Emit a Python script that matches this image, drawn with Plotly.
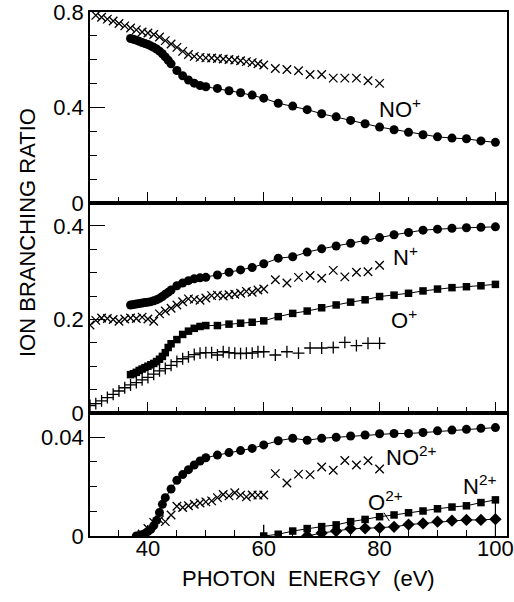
import plotly.graph_objects as go

# ---------------- data (photon energy in eV, branching ratios) ----------------
# Top panel: NO+
NOP_CIRC_E = [37, 37.5, 38, 38.5, 39, 39.5, 40, 40.5, 41, 41.5, 42, 42.5, 43, 43.5, 44,
              45, 46, 47, 48, 49, 50, 52, 54, 56, 58, 60,
              62.5, 65, 67.5, 70, 72.5, 75, 77.5, 80, 82.5, 85, 87.5, 90, 92.5, 95, 97.5, 100]
NOP_CIRC = [0.689, 0.686, 0.682, 0.677, 0.672, 0.668, 0.664, 0.658, 0.652, 0.645, 0.636, 0.625, 0.612, 0.598, 0.583,
            0.555, 0.533, 0.515, 0.502, 0.492, 0.487, 0.480, 0.470, 0.462, 0.452, 0.439,
            0.418, 0.406, 0.391, 0.374, 0.361, 0.346, 0.332, 0.318, 0.307, 0.296, 0.286, 0.277, 0.272, 0.269, 0.260, 0.254]
NOP_X_E = [31, 32, 33, 34, 35, 36, 37, 38, 39, 40, 41, 42, 43, 44, 45, 46, 47, 48, 49, 50,
           51, 52, 53, 54, 55, 56, 57, 58, 59, 60, 62, 64, 66, 68, 70, 72, 74, 76, 78, 80]
NOP_X = [0.786, 0.778, 0.770, 0.762, 0.752, 0.742, 0.733, 0.725, 0.716, 0.712, 0.706, 0.695, 0.680, 0.666, 0.652,
         0.635, 0.622, 0.614, 0.610, 0.608, 0.607, 0.605, 0.603, 0.601, 0.599, 0.596, 0.592, 0.588, 0.583, 0.578,
         0.563, 0.559, 0.554, 0.538, 0.538, 0.523, 0.523, 0.523, 0.512, 0.501]

# Middle panel: N+ and O+
MID_E = [37, 37.5, 38, 38.5, 39, 39.5, 40, 40.5, 41, 41.5, 42, 42.5, 43, 43.5, 44,
         45, 46, 47, 48, 49, 50, 52, 54, 56, 58, 60,
         62.5, 65, 67.5, 70, 72.5, 75, 77.5, 80, 82.5, 85, 87.5, 90, 92.5, 95, 97.5, 100]
NP_CIRC = [0.231, 0.232, 0.233, 0.234, 0.235, 0.236, 0.237, 0.238, 0.240, 0.242, 0.245, 0.249, 0.254, 0.258, 0.263,
           0.272, 0.278, 0.283, 0.287, 0.289, 0.290, 0.295, 0.301, 0.306, 0.311, 0.319,
           0.331, 0.334, 0.344, 0.351, 0.357, 0.363, 0.370, 0.375, 0.381, 0.386, 0.391, 0.393, 0.395, 0.396, 0.397, 0.398]
OP_SQ = [0.082, 0.084, 0.087, 0.091, 0.094, 0.097, 0.100, 0.103, 0.106, 0.110, 0.115, 0.121, 0.129, 0.140, 0.148,
         0.157, 0.168, 0.175, 0.181, 0.185, 0.187, 0.187, 0.190, 0.192, 0.194, 0.197,
         0.206, 0.213, 0.218, 0.225, 0.231, 0.237, 0.242, 0.249, 0.252, 0.256, 0.261, 0.265, 0.268, 0.270, 0.272, 0.275]
MID_X_E = [30, 31, 32, 33, 34, 35, 36, 37, 38, 39, 40, 41, 42, 43, 44, 45, 46, 47, 48, 49, 50,
           51, 52, 53, 54, 55, 56, 57, 58, 59, 60, 62, 64, 66, 68, 70, 72, 74, 76, 78, 80]
NP_X = [0.188, 0.198, 0.203, 0.202, 0.200, 0.196, 0.201, 0.203, 0.202, 0.205, 0.201, 0.196, 0.212, 0.218, 0.224,
        0.231, 0.238, 0.244, 0.243, 0.241, 0.246, 0.251, 0.252, 0.250, 0.253, 0.254, 0.256, 0.260, 0.258, 0.263, 0.265,
        0.285, 0.278, 0.290, 0.294, 0.288, 0.305, 0.291, 0.301, 0.302, 0.316]
OP_PLUS = [0.016, 0.020, 0.026, 0.033, 0.040, 0.047, 0.054, 0.060, 0.065, 0.071, 0.076, 0.083, 0.090, 0.095, 0.102,
           0.110, 0.116, 0.120, 0.125, 0.128, 0.129, 0.129, 0.124, 0.131, 0.129, 0.128, 0.127, 0.128, 0.128, 0.131, 0.131,
           0.124, 0.131, 0.128, 0.139, 0.139, 0.140, 0.151, 0.144, 0.149, 0.149]

# Bottom panel: NO2+, N2+, O2+
NO2_CIRC_E = [38, 38.5, 39, 39.5, 40, 40.5, 41, 41.5, 42, 42.5, 43, 44, 45, 46, 47, 48, 49, 50,
              52, 54, 56, 58, 60, 62.5, 65, 67.5, 70, 72.5, 75, 77.5, 80, 82.5, 85, 87.5, 90, 92.5, 95, 97.5, 100]
NO2_CIRC = [0.0, 0.0002, 0.0005, 0.0010, 0.0018, 0.0027, 0.0042, 0.0063, 0.0095, 0.0128, 0.0155, 0.0190, 0.0225,
            0.0248, 0.0268, 0.0287, 0.0303, 0.0316, 0.0327, 0.0337, 0.0345, 0.0354, 0.0368, 0.0385, 0.0395, 0.0387,
            0.0395, 0.0399, 0.0404, 0.0408, 0.0413, 0.0414, 0.0414, 0.0418, 0.0425, 0.0428, 0.0431, 0.0435, 0.0438]
NO2_X_E = [39, 40, 41, 42, 43, 44, 45, 46, 47, 48, 49, 50, 51, 52, 53, 54, 55, 56, 57, 58, 59, 60,
           62, 64, 66, 68, 70, 72, 74, 76, 78, 80]
NO2_X = [0.0008, 0.0030, 0.0055, 0.0065, 0.0058, 0.0085, 0.0120, 0.0115, 0.0122, 0.0128, 0.0133, 0.0138, 0.0142,
         0.0155, 0.0168, 0.0162, 0.0175, 0.0165, 0.0158, 0.0166, 0.0165, 0.0166,
         0.0252, 0.0214, 0.0250, 0.0248, 0.0279, 0.0266, 0.0305, 0.0287, 0.0304, 0.0271]
N2_E = [60, 62.5, 65, 67.5, 70, 72.5, 75, 77.5, 80, 82.5, 85, 87.5, 90, 92.5, 95, 97.5, 100]
N2_SQ = [0.0, 0.0007, 0.0020, 0.0030, 0.0038, 0.0045, 0.0058, 0.0067, 0.0078, 0.0085, 0.0094, 0.0101, 0.0110,
         0.0117, 0.0122, 0.0135, 0.0146]
N2_ERR_UP = [0.0045] + [0.0] * 16
O2_E = [67.5, 70, 72.5, 75, 77.5, 80, 82.5, 85, 87.5, 90, 92.5, 95, 97.5, 100]
O2_DIA = [0.0, 0.0012, 0.0020, 0.0029, 0.0031, 0.0033, 0.0037, 0.0046, 0.0051, 0.0058, 0.0062, 0.0065, 0.0065, 0.0068]
O2_ERR_UP = [0.0032, 0.0028, 0.0026, 0.0028] + [0.0] * 9 + [0.0065]
O2_ERR_DN = [0.0] * 13 + [0.0068]

# ---------------- figure ----------------
FONT = "Liberation Sans, Arial, Helvetica, sans-serif"
FS = 22
BLK = "black"
fig = go.Figure()

def pts(x, y, xa, ya, symbol, size, line=False, lw=1.0, err=None):
    kw = dict(x=x, y=y, xaxis=xa, yaxis=ya, hoverinfo="skip",
              mode="lines+markers" if line else "markers",
              line=dict(color=BLK, width=lw),
              marker=dict(symbol=symbol, size=size, color=BLK,
                          line=dict(color=BLK, width=1.3 if "thin" in symbol else 0)))
    if err is not None:
        kw["error_y"] = dict(type="data", symmetric=False, array=err[0], arrayminus=err[1],
                             color=BLK, thickness=1.2, width=0)
    fig.add_trace(go.Scatter(**kw))

# top (x3, y3)
pts(NOP_X_E, NOP_X, "x3", "y3", "x-thin", 8.5)
pts(NOP_CIRC_E, NOP_CIRC, "x3", "y3", "circle", 9, line=True)
# middle (x2, y2)
pts(MID_X_E, NP_X, "x2", "y2", "x-thin", 8.5)
pts(MID_X_E, OP_PLUS, "x2", "y2", "cross-thin", 8.5)
pts(MID_E, NP_CIRC, "x2", "y2", "circle", 9, line=True)
pts(MID_E, OP_SQ, "x2", "y2", "square", 7.5, line=True)
# bottom (x, y)
pts(NO2_X_E, NO2_X, "x", "y", "x-thin", 8.5)
pts(NO2_CIRC_E, NO2_CIRC, "x", "y", "circle", 9, line=True)
pts(N2_E, N2_SQ, "x", "y", "square", 7.5, line=True, err=(N2_ERR_UP, [0.0] * 17))
pts(O2_E, O2_DIA, "x", "y", "diamond", 9.5, line=True, err=(O2_ERR_UP, O2_ERR_DN))

xcommon = dict(range=[30, 102], showline=True, mirror=True, linecolor=BLK, linewidth=1.5,
               ticks="inside", ticklen=11, tickwidth=1.3, tickcolor=BLK,
               tickvals=[40, 60, 80, 100], ticktext=["40", "60", "80", "100"],
               minor=dict(ticks="inside", ticklen=6, tickwidth=1.1, tickcolor=BLK, dtick=5, tick0=0),
               showgrid=False, zeroline=False, automargin=False, ticklabeloverflow="allow",
               tickfont=dict(size=FS, family=FONT, color=BLK))
ycommon = dict(showline=True, mirror=True, linecolor=BLK, linewidth=1.5,
               ticks="inside", ticklen=15, tickwidth=1.3, tickcolor=BLK,
               showgrid=False, zeroline=False, automargin=False, ticklabeloverflow="allow",
               tickfont=dict(size=FS, family=FONT, color=BLK))

TOP = 12
PH = 536 - TOP
D1 = 123 / PH
D2 = 333 / PH

fig.update_layout(
    width=514, height=602,
    margin=dict(l=90, r=7, t=TOP, b=66),
    plot_bgcolor="white", paper_bgcolor="white",
    showlegend=False,
    font=dict(family=FONT, size=FS, color=BLK),
    xaxis=dict(xcommon, domain=[0, 1], anchor="y", showticklabels=True, ticklabelstandoff=-8),
    xaxis2=dict(xcommon, domain=[0, 1], anchor="y2", showticklabels=False, matches="x"),
    xaxis3=dict(xcommon, domain=[0, 1], anchor="y3", showticklabels=False, matches="x"),
    yaxis=dict(ycommon, domain=[0, D1], anchor="x", range=[0, 0.0497],
               tickvals=[0, 0.04], ticktext=["0", "0.04"],
               minor=dict(ticks="inside", ticklen=7, tickwidth=1.1, tickcolor=BLK, dtick=0.01, tick0=0)),
    yaxis2=dict(ycommon, domain=[D1, D2], anchor="x2", range=[0, 0.449],
                tickvals=[0, 0.2, 0.4], ticktext=["0", "0.2", "0.4"],
                minor=dict(ticks="inside", ticklen=7, tickwidth=1.1, tickcolor=BLK, dtick=0.05, tick0=0)),
    yaxis3=dict(ycommon, domain=[D2, 1], anchor="x3", range=[0, 0.8],
                tickvals=[0, 0.4, 0.8], ticktext=["0", "0.4", "0.8"],
                minor=dict(ticks="inside", ticklen=7, tickwidth=1.1, tickcolor=BLK, dtick=0.1, tick0=0)),
)

NB = "\u00a0"
ann = [
    dict(text="NO<sup>+</sup>", x=83.5, y=0.40, xref="x3", yref="y3"),
    dict(text="N<sup>+</sup>", x=84.5, y=0.336, xref="x2", yref="y2"),
    dict(text="O<sup>+</sup>", x=84.3, y=0.200, xref="x2", yref="y2"),
    dict(text="NO<sup>2+</sup>", x=85.5, y=0.0325, xref="x", yref="y"),
    dict(text="N<sup>2+</sup>", x=97.3, y=0.0205, xref="x", yref="y"),
    dict(text="O<sup>2+</sup>", x=81.0, y=0.0140, xref="x", yref="y"),
    dict(text="PHOTON" + NB * 2 + "ENERGY" + NB * 2 + "(eV)", x=0.525, y=-42 / PH, xref="paper", yref="paper"),
    dict(text="ION" + NB + "BRANCHING" + NB + "RATIO", x=-63 / 417, y=(536 - 233) / PH,
         xref="paper", yref="paper", textangle=-90),
]
for a in ann:
    fig.add_annotation(showarrow=False, xanchor="center", yanchor="middle",
                       font=dict(size=FS, family=FONT, color=BLK), **a)

# short pointer line from the O2+ label to its data
fig.add_annotation(x=81.7, y=0.0060, ax=80.6, ay=0.0100, xref="x", yref="y", axref="x", ayref="y",
                   text="", showarrow=True, arrowhead=0, arrowwidth=1, arrowcolor=BLK)

fig.write_html("out.html", config={"displayModeBar": False},
               post_script="document.body.style.margin='0';document.body.style.overflow='hidden';")
